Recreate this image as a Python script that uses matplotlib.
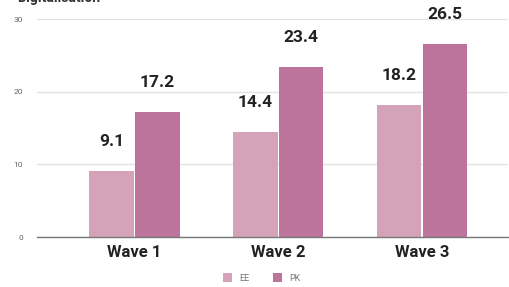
import matplotlib
matplotlib.use("Agg")
import matplotlib.pyplot as plt
import numpy as np

categories = ["Wave 1", "Wave 2", "Wave 3"]
series_names = ["EE", "PK"]
ee_values = [9.1, 14.4, 18.2]
pk_values = [17.2, 23.4, 26.5]
y_ticks = [0, 10, 20, 30]
title = "Digitalisation"

plt.rcParams['font.family'] = ['Roboto', 'DejaVu Sans']

fig = plt.figure(figsize=(5.09, 2.87), dpi=100)
ax = fig.add_axes([37/509, 1-237/287, 471/509, 218/287])

x = np.arange(len(categories))
w = 0.31
off = 0.16
c_ee = "#d4a3ba"
c_pk = "#bd749c"
b1 = ax.bar(x - off, ee_values, w, color=c_ee, label=series_names[0], zorder=3)
b2 = ax.bar(x + off, pk_values, w, color=c_pk, label=series_names[1], zorder=3)

for bars, vals in ((b1, ee_values), (b2, pk_values)):
    for rect, v in zip(bars, vals):
        ax.annotate(f"{v}", (rect.get_x() + rect.get_width()/2, v),
                    xytext=(0, 16), textcoords="offset points",
                    ha="center", va="bottom", fontsize=12.5, fontweight="bold",
                    color="#222222", clip_on=False)

ax.set_xlim(-0.68, 2.6)
ax.set_ylim(0, 30)
ax.set_yticks(y_ticks)
ax.set_xticks(x)
ax.set_xticklabels(categories, fontsize=12, fontweight="bold", color="#222222")
ax.tick_params(axis="x", length=0, pad=6)
ax.tick_params(axis="y", length=0, pad=10, labelsize=6, labelcolor="#666666")
ax.grid(axis="y", color="#e3e3e3", linewidth=1, zorder=0)
for s in ["top", "right", "left"]:
    ax.spines[s].set_visible(False)
ax.spines["bottom"].set_color("#777777")
ax.spines["bottom"].set_linewidth(1)
ax.spines["bottom"].set_zorder(4)

leg = fig.legend(handles=[b1, b2], labels=series_names, loc="center",
                 bbox_to_anchor=(262/509, 1-278/287), ncol=2, frameon=False,
                 fontsize=6.5, handlelength=1.0, handleheight=1.0,
                 columnspacing=2.6, handletextpad=0.8)
for t in leg.get_texts():
    t.set_color("#777777")

fig.text(17/509, 1-2/287, title, fontsize=10, fontweight="bold",
         color="#333333", ha="left", va="baseline")

fig.savefig("out.png", dpi=100)
